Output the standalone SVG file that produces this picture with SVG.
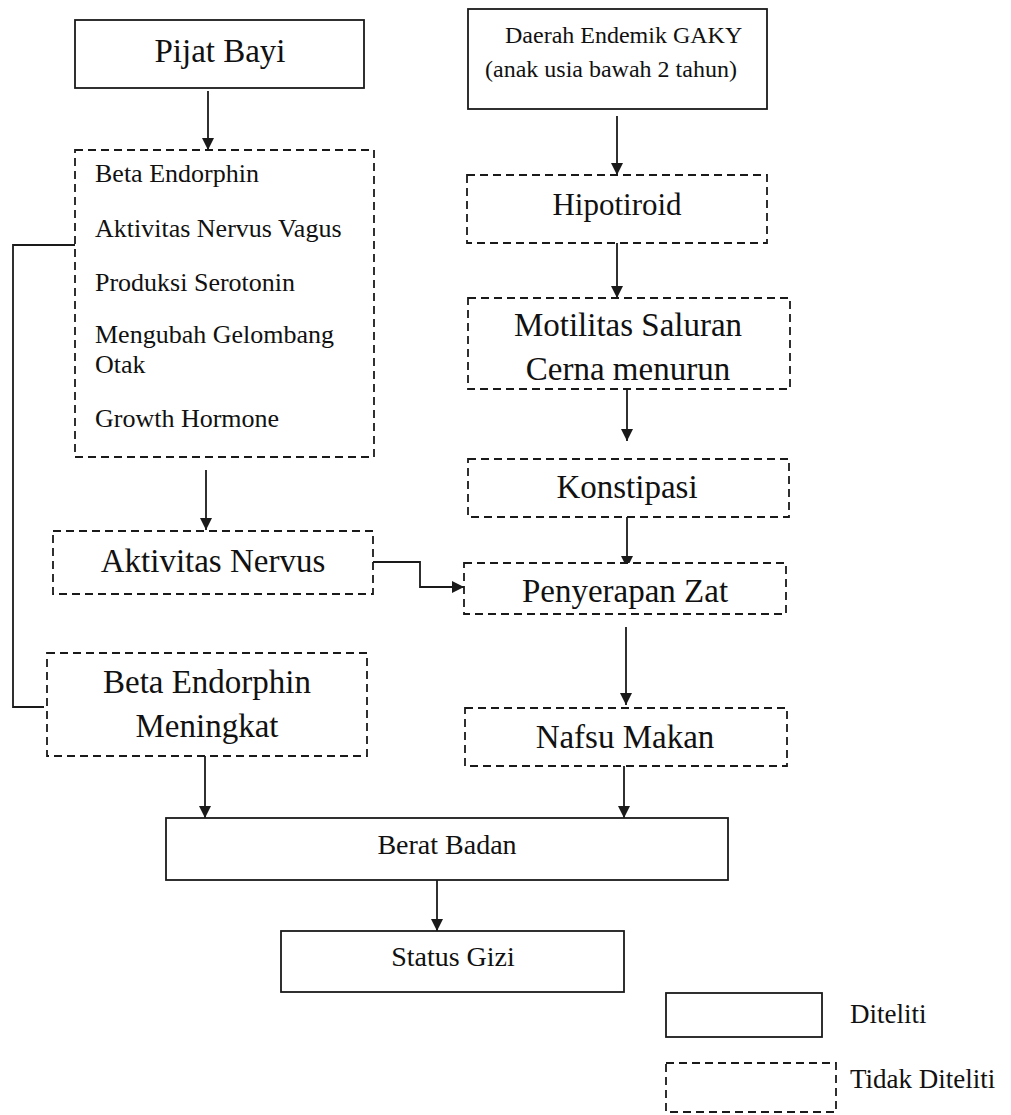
<svg xmlns="http://www.w3.org/2000/svg" width="1011" height="1115" viewBox="0 0 1011 1115">
<style>
  .solid { fill: #fff; stroke: #1a1a1a; stroke-width: 1.8; }
  .dash { fill: #fff; stroke: #1a1a1a; stroke-width: 1.8; stroke-dasharray: 8 5; }
  .t { font-family: "Liberation Serif", "Times New Roman", serif; fill: #111; }
  .big { font-size: 33px; text-anchor: middle; }
  .mid { font-size: 28px; text-anchor: middle; }
  .list { font-size: 26px; }
  .conn { fill: none; stroke: #1a1a1a; stroke-width: 1.8; }
  .arr { marker-end: url(#ah); }
</style>
<defs>
  <marker id="ah" markerUnits="userSpaceOnUse" markerWidth="12" markerHeight="14" viewBox="0 0 12 14" refX="12" refY="7" orient="auto">
    <path d="M0,1 L12,7 L0,13 z" fill="#1a1a1a"/>
  </marker>
</defs>
<rect width="1011" height="1115" fill="#fff"/>

<g id="connectors">
  <line class="conn arr" x1="208" y1="91" x2="208" y2="150"/>
  <line class="conn arr" x1="206" y1="470" x2="206" y2="530"/>
  <line class="conn arr" x1="617" y1="116" x2="617" y2="175"/>
  <line class="conn arr" x1="617" y1="243" x2="617" y2="298"/>
  <line class="conn arr" x1="627" y1="389" x2="627" y2="441"/>
  <line class="conn arr" x1="627" y1="517" x2="627" y2="568"/>
  <path class="conn arr" d="M373,562 H420 V587 H464"/>
  <line class="conn arr" x1="626" y1="627" x2="626" y2="705"/>
  <line class="conn arr" x1="205" y1="756" x2="205" y2="818"/>
  <line class="conn arr" x1="624" y1="766" x2="624" y2="818"/>
  <line class="conn arr" x1="437" y1="880" x2="437" y2="931"/>
  <polyline class="conn" points="75,245 13,245 13,707 44,707"/>
</g>

<g id="pijat-bayi">
  <rect class="solid" x="75" y="20" width="289" height="68"/>
  <text class="t big" x="220" y="62">Pijat Bayi</text>
</g>

<g id="daerah-endemik">
  <rect class="solid" x="468" y="9" width="299" height="100"/>
  <text class="t" font-size="24" x="505" y="43">Daerah Endemik GAKY</text>
  <text class="t" font-size="24" x="485" y="77">(anak usia bawah 2 tahun)</text>
</g>

<g id="efek-pijat">
  <rect class="dash" x="75" y="150" width="299" height="307"/>
  <text class="t list" x="95" y="182">Beta Endorphin</text>
  <text class="t list" x="95" y="237">Aktivitas Nervus Vagus</text>
  <text class="t list" x="95" y="291">Produksi Serotonin</text>
  <text class="t list" x="95" y="343">Mengubah Gelombang</text>
  <text class="t list" x="95" y="373">Otak</text>
  <text class="t list" x="95" y="427">Growth Hormone</text>
</g>

<g id="hipotiroid">
  <rect class="dash" x="467" y="175" width="300" height="68"/>
  <text class="t big" font-size="31" x="617" y="215" style="font-size:31px">Hipotiroid</text>
</g>

<g id="motilitas">
  <rect class="dash" x="468" y="298" width="322" height="91"/>
  <text class="t big" x="628" y="336">Motilitas Saluran</text>
  <text class="t big" x="628" y="380">Cerna menurun</text>
</g>

<g id="konstipasi">
  <rect class="dash" x="468" y="459" width="321" height="58"/>
  <text class="t big" x="627" y="498">Konstipasi</text>
</g>

<g id="aktivitas-nervus">
  <rect class="dash" x="53" y="531" width="320" height="63"/>
  <text class="t big" x="213" y="572">Aktivitas Nervus</text>
</g>

<g id="penyerapan-zat">
  <rect class="dash" x="464" y="563" width="322" height="51"/>
  <text class="t big" x="625" y="602">Penyerapan Zat</text>
</g>

<g id="beta-endorphin-meningkat">
  <rect class="dash" x="47" y="653" width="320" height="103"/>
  <text class="t big" x="207" y="693">Beta Endorphin</text>
  <text class="t big" x="207" y="737">Meningkat</text>
</g>

<g id="nafsu-makan">
  <rect class="dash" x="465" y="708" width="322" height="58"/>
  <text class="t big" x="625" y="748">Nafsu Makan</text>
</g>

<g id="berat-badan">
  <rect class="solid" x="166" y="818" width="562" height="62"/>
  <text class="t mid" x="447" y="854">Berat Badan</text>
</g>

<g id="status-gizi">
  <rect class="solid" x="281" y="931" width="343" height="61"/>
  <text class="t mid" x="453" y="966">Status Gizi</text>
</g>

<g id="legend-diteliti">
  <rect class="solid" x="666" y="993" width="156" height="44"/>
  <text class="t" font-size="27" x="850" y="1023">Diteliti</text>
</g>

<g id="legend-tidak-diteliti">
  <rect class="dash" x="666" y="1063" width="170" height="49"/>
  <text class="t" font-size="27" x="850" y="1088">Tidak Diteliti</text>
</g>
</svg>
